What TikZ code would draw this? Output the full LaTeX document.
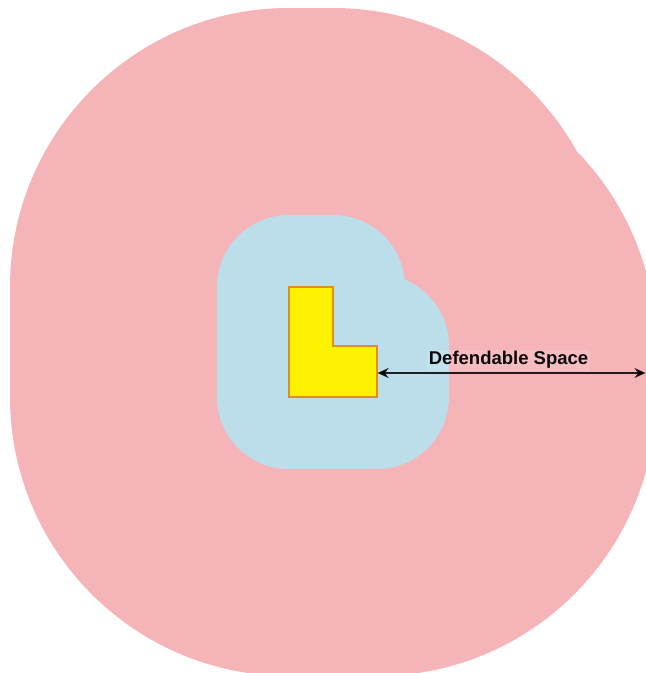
\documentclass[tikz,border=0pt]{standalone}
\usepackage{fontspec}
\setmainfont{Liberation Sans}
\usetikzlibrary{arrows.meta,positioning}
\definecolor{zonepink}{HTML}{F5B5B8}
\definecolor{zoneblue}{HTML}{BCDEEB}
\definecolor{bldgedge}{HTML}{E0901A}

\begin{document}
\begin{tikzpicture}[x=1pt, y=-1pt,
  zone/.style={line join=round, line width=#1},
  bldg/.style={fill=yellow, draw=bldgedge, line width=1.2pt},
  span/.style={{Stealth[length=11pt,width=10pt]}-{Stealth[length=11pt,width=10pt]}, line width=2.4pt, draw=black, draw opacity=0.85},
  tag/.style={font=\bfseries\fontsize{18.5}{21}\selectfont, fill=white, fill opacity=0.12, text opacity=0.95, inner sep=2pt}]
  \useasboundingbox (0,0) rectangle (646,673);
  \clip (0,0) rectangle (646,673);
  \foreach \col/\w in {zonepink/558pt, zoneblue/144pt} {
    \filldraw[\col, zone=\w] (289,287) -- (333,287) -- (333,346) -- (377,346) -- (377,397) -- (289,397) -- cycle;
  }
  \filldraw[bldg] (289,287) -- (333,287) -- (333,346) -- (377,346) -- (377,397) -- (289,397) -- cycle;
  \coordinate (wall) at (377.6,373);
  \coordinate (rim) at (645.5,373);
  \draw[span] (wall) -- node[tag, above=1pt, xshift=-3pt] (label) {Defendable Space} (rim);
\end{tikzpicture}
\end{document}
